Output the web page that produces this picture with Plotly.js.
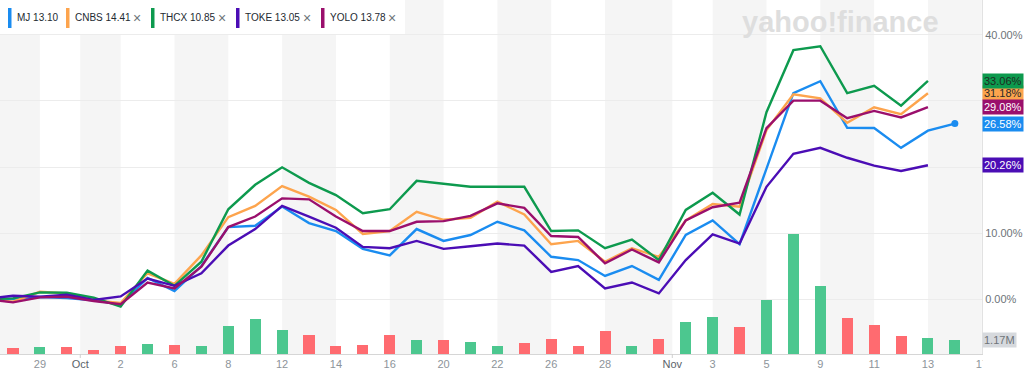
<!DOCTYPE html>
<html>
<head>
<meta charset="utf-8">
<script src="https://cdn.plot.ly/plotly-3.0.1.min.js"></script>
<style>
  html, body { margin: 0; padding: 0; background: #ffffff; }
  #chart { width: 1024px; height: 378px; }
</style>
</head>
<body>
<div id="chart"></div>
<script>
// ---------- DATA ----------
// trading calendar shown on the axis (last day is only used as a tick)
const calendar = ['Sep 25','Sep 28','Sep 29','Sep 30','Oct 1','Oct 2','Oct 5','Oct 6','Oct 7','Oct 8','Oct 9',
  'Oct 12','Oct 13','Oct 14','Oct 15','Oct 16','Oct 19','Oct 20','Oct 21','Oct 22','Oct 23',
  'Oct 26','Oct 27','Oct 28','Oct 29','Oct 30','Nov 2','Nov 3','Nov 4','Nov 5','Nov 6',
  'Nov 9','Nov 10','Nov 11','Nov 12','Nov 13','Nov 16','Nov 17'];

// % change since start
const MJ   = [0, 0.0, 0.3, 0.15, -0.2, -0.8, 3.2, 1.2, 5.0, 10.9, 11.1, 14.0, 11.5, 10.3, 7.6, 6.6, 10.6, 8.8, 9.7, 11.7, 10.4, 6.4, 5.9, 3.5, 5.0, 2.9, 9.7, 11.9, 8.3, 19.9, 31.2, 33.0, 25.95, 25.9, 22.9, 25.5, 26.58];
const CNBS = [0, -0.4, 1.1, 0.85, -0.2, -0.6, 3.9, 2.3, 6.6, 12.4, 14.1, 17.1, 15.5, 13.5, 9.85, 10.3, 13.2, 12.0, 12.3, 14.75, 12.8, 8.3, 8.8, 5.65, 7.7, 6.4, 11.9, 14.4, 14.0, 25.6, 31.0, 30.4, 26.7, 29.05, 28.0, 31.18];
const THCX = [0, 0.1, 1.0, 0.95, 0.2, -1.15, 4.3, 2.0, 5.65, 13.6, 17.3, 19.95, 17.6, 15.75, 13.0, 13.6, 17.9, 17.4, 17.0, 17.0, 17.0, 10.3, 10.4, 7.7, 9.0, 5.9, 13.5, 16.1, 12.8, 28.3, 37.7, 38.3, 31.2, 32.3, 29.3, 33.06];
const TOKE = [0, 0.5, 0.35, 0.65, -0.15, 0.4, 3.1, 2.0, 3.9, 8.1, 10.6, 14.1, 12.5, 10.8, 7.9, 7.7, 8.8, 7.6, 8.0, 8.4, 8.1, 4.1, 5.0, 1.6, 2.5, 0.85, 5.9, 9.8, 8.4, 17.0, 22.0, 22.9, 21.4, 20.2, 19.4, 20.26];
const YOLO = [0, -0.5, 0.25, 0.35, -0.3, -0.8, 2.5, 1.6, 4.9, 10.9, 12.5, 15.25, 15.1, 12.5, 10.3, 10.3, 11.7, 11.8, 12.6, 14.5, 13.8, 9.55, 9.4, 5.4, 7.5, 5.55, 11.9, 13.9, 14.6, 25.9, 30.05, 30.05, 27.4, 28.5, 27.5, 29.08];

// MJ volume (millions) and up/down day
const volume = [null, 0.48, 0.57, 0.57, 0.37, 0.65, 0.89, 0.77, 0.71, 2.41, 3.01, 2.06, 1.60, 0.71, 0.80, 1.60, 1.17, 1.17, 1.03, 0.71, 0.97,
  1.32, 0.65, 2.00, 0.71, 1.32, 2.75, 3.18, 2.35, 4.64, 10.32, 5.85, 3.10, 2.49, 1.55, 1.40, 1.17];
const volDir = ['', 'down','up','down','down','down','up','down','up','up','up','up','down','down','down','down','up','down','up','up','down',
  'down','down','down','up','down','up','up','down','up','up','up','down','down','down','up','up'];

// legend
const tickers = ['MJ', 'CNBS', 'THCX', 'TOKE', 'YOLO'];
const prices  = ['13.10', '14.41', '10.85', '13.05', '13.78'];

// axis tick labels
const dayTicks   = ['Sep 29','Oct 2','Oct 6','Oct 8','Oct 12','Oct 14','Oct 16','Oct 20','Oct 22','Oct 26','Oct 28','Nov 3','Nov 5','Nov 9','Nov 11','Nov 13','Nov 17'];
const monthTicks = ['Oct', 'Nov'];
const pctTicks   = [0, 10, 20, 30, 40];
const pctLabelShown = [true, true, false, false, true];
const lastVolumeLabel = '1.17M';

// ---------- STYLE ----------
const colors = { MJ: '#1a8cf0', CNBS: '#fda44d', THCX: '#0d9a4e', TOKE: '#4b0db5', YOLO: '#9a0f6c' };
const tagText = { MJ: '#ffffff', CNBS: '#2a2a2a', THCX: '#1f2a22', TOKE: '#ffffff', YOLO: '#ffffff' };
const series = { MJ, CNBS, THCX, TOKE, YOLO };
const FONT = '"Liberation Sans", Arial, sans-serif';
const W = 982, H = 354;           // plot area px
const px = v => v / W, py = v => 1 - v / H;

const idx = d => calendar.indexOf(d);
const xs = arr => arr.map((_, i) => i);

const traces = [];
// volume bars (base axis, drawn below)
traces.push({
  type: 'bar', x: xs(volume), y: volume, yaxis: 'y', width: 0.41,
  marker: { color: volDir.map(d => d === 'up' ? '#4cc78f' : '#ff6b70') },
  hoverinfo: 'skip'
});
// lines (overlaying axis, drawn above)
tickers.forEach(t => {
  traces.push({
    type: 'scatter', mode: 'lines', x: xs(series[t]), y: series[t], yaxis: 'y2',
    line: { color: colors[t], width: 2.4 }, hoverinfo: 'skip'
  });
});
// end dot for MJ
traces.push({
  type: 'scatter', mode: 'markers', x: [MJ.length - 1], y: [MJ[MJ.length - 1]], yaxis: 'y2',
  marker: { color: colors.MJ, size: 7 }, hoverinfo: 'skip'
});

// x ticks
const tickvals = [], ticktext = [];
dayTicks.forEach(d => { tickvals.push(idx(d)); ticktext.push(d.split(' ')[1]); });
monthTicks.forEach(m => {
  const first = calendar.findIndex(d => d.startsWith(m));
  tickvals.push(first - 0.5);
  ticktext.push('<span style="color:#5b636a">' + m + '</span>');
});

// alternating bands between tick positions
const xRange = [0.517, 37.009];
const bandEdges = [xRange[0]].concat(tickvals.slice().sort((a, b) => a - b));
const shapes = [];
for (let i = 0; i < bandEdges.length - 1; i++) {
  if (i % 2 === 0) {
    shapes.push({ type: 'rect', xref: 'x', yref: 'paper', x0: bandEdges[i], x1: bandEdges[i + 1], y0: 0, y1: 1,
      fillcolor: '#f5f5f5', line: { width: 0 }, layer: 'below' });
  }
}
// month tick marks
monthTicks.forEach(m => {
  const v = calendar.findIndex(d => d.startsWith(m)) - 0.5;
  shapes.push({ type: 'line', xref: 'x', yref: 'paper', x0: v, x1: v, y0: 0, y1: -4 / H, line: { color: '#cfcfcf', width: 1 } });
});
// legend background
shapes.push({ type: 'rect', xref: 'paper', yref: 'paper', x0: 0, x1: px(405), y0: py(34), y1: 1,
  fillcolor: '#ffffff', line: { width: 0 }, layer: 'below' });
// cover right part of clipped last tick label
shapes.push({ type: 'rect', xref: 'paper', yref: 'paper', x0: 1 + 0.5 / W, x1: 1.06, y0: -0.1, y1: -1 / H,
  fillcolor: '#ffffff', line: { width: 0 }, layer: 'above' });

const annotations = [];
// legend items
let lx = 8;
tickers.forEach((t, i) => {
  shapes.push({ type: 'rect', xref: 'paper', yref: 'paper', x0: px(lx), x1: px(lx + 3.5), y0: py(28), y1: py(8),
    fillcolor: colors[t], line: { width: 0 } });
  annotations.push({ xref: 'paper', yref: 'paper', x: px(lx + 7), y: py(18), xanchor: 'left', yanchor: 'middle',
    text: t + ' ' + prices[i], showarrow: false, font: { family: FONT, size: 10, color: '#232a31' } });
  if (i > 0) {
    annotations.push({ xref: 'paper', yref: 'paper', x: px(lx + 71), y: py(18), xanchor: 'center', yanchor: 'middle',
      text: '×', showarrow: false, font: { family: FONT, size: 14, color: '#6e7479' } });
  }
  lx += (i === 0 ? 58 : 85);
});
// watermark
annotations.push({ xref: 'paper', yref: 'paper', x: px(840), y: py(22), xanchor: 'center', yanchor: 'middle',
  text: '<b>yahoo!finance</b>', showarrow: false, font: { family: FONT, size: 29, color: '#dedede' } });
// end value tags
tickers.forEach(t => {
  const v = series[t][series[t].length - 1];
  annotations.push({ xref: 'paper', yref: 'y2', x: 1, y: v, xanchor: 'left', yanchor: 'middle',
    text: v.toFixed(2) + '%', showarrow: false, bgcolor: colors[t], borderpad: 1,
    font: { family: FONT, size: 11, color: tagText[t] } });
});
annotations.push({ xref: 'paper', yref: 'y', x: 1, y: volume[volume.length - 1], xanchor: 'left', yanchor: 'middle',
  text: lastVolumeLabel, showarrow: false, bgcolor: '#d6d9dd', borderpad: 1,
  font: { family: FONT, size: 11, color: '#6e7479' } });

const layout = {
  width: 1024, height: 378,
  margin: { l: 0, r: 42, t: 0, b: 24 },
  paper_bgcolor: '#ffffff', plot_bgcolor: '#ffffff',
  showlegend: false, bargap: 0,
  font: { family: FONT, size: 11, color: '#6e7479' },
  xaxis: {
    range: xRange, tickvals, ticktext, ticks: '', showgrid: false, zeroline: false,
    showline: true, linecolor: '#d6d6d6', linewidth: 1,
    tickfont: { family: FONT, size: 11, color: '#8d949a' }
  },
  yaxis: { range: [0, 30.45], visible: false, fixedrange: true },
  yaxis2: {
    overlaying: 'y', side: 'right', range: [-8.33, 45.30],
    tickvals: pctTicks, ticktext: pctTicks.map((v, i) => pctLabelShown[i] ? v.toFixed(2) + '%' : ''),
    showgrid: true, gridcolor: '#ececec', zeroline: false,
    showline: true, linecolor: '#e2e2e2', ticks: '',
    tickfont: { family: FONT, size: 11, color: '#6e7479' }
  },
  shapes, annotations
};

Plotly.newPlot('chart', traces, layout, { staticPlot: true, displayModeBar: false });
</script>
</body>
</html>
